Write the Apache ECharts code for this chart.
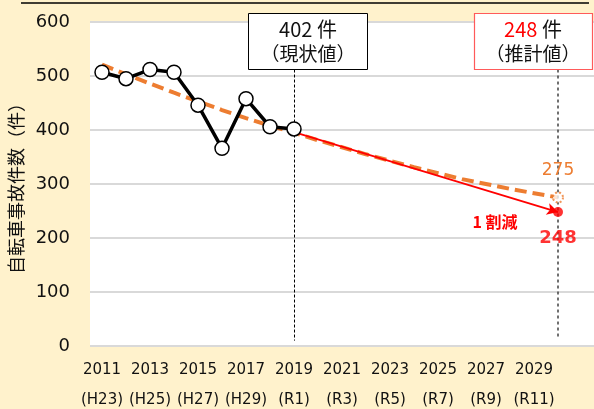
<!DOCTYPE html>
<html>
<head>
<meta charset="utf-8">
<script src="https://cdn.jsdelivr.net/npm/echarts@6/dist/echarts.min.js"></script>
<style>
html,body{margin:0;padding:0;background:#FFF2CC;}
#chart{width:594px;height:409px;}
</style>
</head>
<body>
<div id="chart"></div>
<script>
// ---- data ----
const years = ['2011','2012','2013','2014','2015','2016','2017','2018','2019','2020',
               '2021','2022','2023','2024','2025','2026','2027','2028','2029','2030','2031'];
const eraLabels = {'2011':'(H23)','2013':'(H25)','2015':'(H27)','2017':'(H29)','2019':'(R1)',
                   '2021':'(R3)','2023':'(R5)','2025':'(R7)','2027':'(R9)','2029':'(R11)'};
const actual = [507, 495, 512, 507, 446, 366, 458, 406, 402];
const trend = [521, 503, 486, 469, 453, 437, 422, 408, 395, 381,
               368, 355, 343, 331, 320, 309, 300, 291, 283, 275];
const currentYear = '2019';
const currentValue = 402;
const targetYear = '2030';
const targetStartValue = 396;
const targetValue = 248;
const trendEndValue = 275;
const yTicks = {min: 0, max: 600, interval: 100};
const guideTop = 512;
const guideBottom2019 = 10;
const guideBottom2030 = 17;

const FONT = "'DejaVu Sans','Noto Sans CJK JP',sans-serif";
const CJK = "'Noto Sans CJK JP','DejaVu Sans',sans-serif";

const chart = echarts.init(document.getElementById('chart'), null, {renderer:'canvas'});
const option = {
  backgroundColor: '#FFF2CC',
  animation: false,
  grid: {left: 90, right: 0, top: 22, bottom: 63, show: true, backgroundColor: '#ffffff', borderWidth: 0,
         containLabel: false, outerBoundsMode: 'none'},
  xAxis: {
    type: 'category',
    data: years,
    boundaryGap: true,
    axisLine: {show: false},
    axisTick: {show: false},
    axisLabel: {
      interval: 1,
      margin: 9,
      color: '#111',
      fontFamily: FONT,
      fontSize: 15,
      lineHeight: 30,
      formatter: function (v) { return eraLabels[v] ? v + '\n' + eraLabels[v] : ''; }
    },
    splitLine: {show: false}
  },
  yAxis: {
    type: 'value',
    min: yTicks.min, max: yTicks.max, interval: yTicks.interval,
    name: '自転車事故件数（件）',
    nameLocation: 'middle',
    nameRotate: 90,
    nameGap: 59,
    nameTextStyle: {fontFamily: CJK, fontSize: 18, color: '#111'},
    axisLine: {show: false},
    axisTick: {show: false},
    axisLabel: {margin: 20, color: '#111', fontFamily: FONT, fontSize: 18},
    splitLine: {lineStyle: {color: '#D9D9D9', width: 2}}
  },
  series: [
    {
      name: 'trend', type: 'line', data: trend, z: 2,
      symbol: 'none',
      lineStyle: {color: '#ED7D31', width: 4, type: [12, 6]}
    },
    {
      name: 'guides', type: 'line', data: [], z: 1,
      markLine: {
        silent: true, symbol: ['none','none'], label: {show: false},
        data: [
          [{coord: [currentYear, guideTop], lineStyle: {color: '#000', width: 1, type: [3, 2]}},
           {coord: [currentYear, guideBottom2019]}],
          [{coord: [targetYear, guideTop], lineStyle: {color: '#404040', width: 1.5, type: [3, 3]}},
           {coord: [targetYear, guideBottom2030]}]
        ]
      }
    },
    {
      name: 'target', type: 'line', data: [], z: 4,
      markLine: {
        silent: true, symbol: ['none','arrow'], symbolSize: [9, 11], label: {show: false},
        lineStyle: {color: '#FF0000', width: 1.8, type: 'solid'},
        data: [[{coord: [currentYear, targetStartValue]}, {coord: [targetYear, targetValue]}]]
      }
    },
    {
      name: 'actual', type: 'line', data: actual, z: 5,
      symbol: 'circle', symbolSize: 14, showAllSymbol: true,
      lineStyle: {color: '#000', width: 3.5},
      itemStyle: {color: '#ffffff', borderColor: '#000', borderWidth: 1.5}
    },
    {
      name: 'trendEnd', type: 'scatter', z: 6,
      data: [[targetYear, trendEndValue]],
      symbol: 'circle', symbolSize: 10,
      itemStyle: {color: '#ffffff', borderColor: '#ED7D31', borderWidth: 2, borderType: 'dotted'},
      label: {show: true, position: 'top', distance: 12, formatter: String(trendEndValue),
              color: '#ED7D31', opacity: 1, fontFamily: FONT, fontSize: 17}
    },
    {
      name: 'targetDot', type: 'scatter', z: 7,
      data: [[targetYear, targetValue]],
      symbol: 'circle', symbolSize: 10,
      itemStyle: {color: '#FF0000'},
      label: {show: true, position: 'bottom', distance: 12, formatter: String(targetValue),
              color: '#FF0000', fontWeight: 'bold', fontFamily: FONT, fontSize: 18}
    }
  ],
  graphic: [
    {type: 'line', shape: {x1: 21, y1: 3, x2: 589, y2: 3}, style: {stroke: '#000', lineWidth: 1.5}, z: 10},
    {type: 'rect', shape: {x: 248.5, y: 13.5, width: 119, height: 56}, style: {fill: '#fff', stroke: '#000', lineWidth: 1}, z: 10},
    {type: 'text', x: 308, y: 29, z: 11, style: {text: currentValue + ' 件', align: 'center', verticalAlign: 'middle', font: "20px " + CJK, fill: '#111'}},
    {type: 'text', x: 308, y: 54, z: 11, style: {text: '（現状値）', align: 'center', verticalAlign: 'middle', font: "19px " + CJK, fill: '#111'}},
    {type: 'rect', shape: {x: 474.5, y: 13.5, width: 118, height: 56}, style: {fill: '#fff', stroke: '#FF5A5A', lineWidth: 1.2}, z: 10},
    {type: 'text', x: 533, y: 29, z: 11, style: {
      text: '{r|' + targetValue + '}{k| 件}', align: 'center', verticalAlign: 'middle',
      rich: {r: {fill: '#FF0000', font: "20px " + CJK}, k: {fill: '#111', font: "20px " + CJK}}}},
    {type: 'text', x: 533, y: 54, z: 11, style: {text: '（推計値）', align: 'center', verticalAlign: 'middle', font: "19px " + CJK, fill: '#111'}},
    {type: 'text', x: 495, y: 222, z: 11, style: {text: '1 割減', align: 'center', verticalAlign: 'middle',
      font: "bold 16px " + CJK, fill: '#FF0000', backgroundColor: '#fff', padding: [4, 6]}}
  ]
};
chart.setOption(option);
</script>
</body>
</html>
